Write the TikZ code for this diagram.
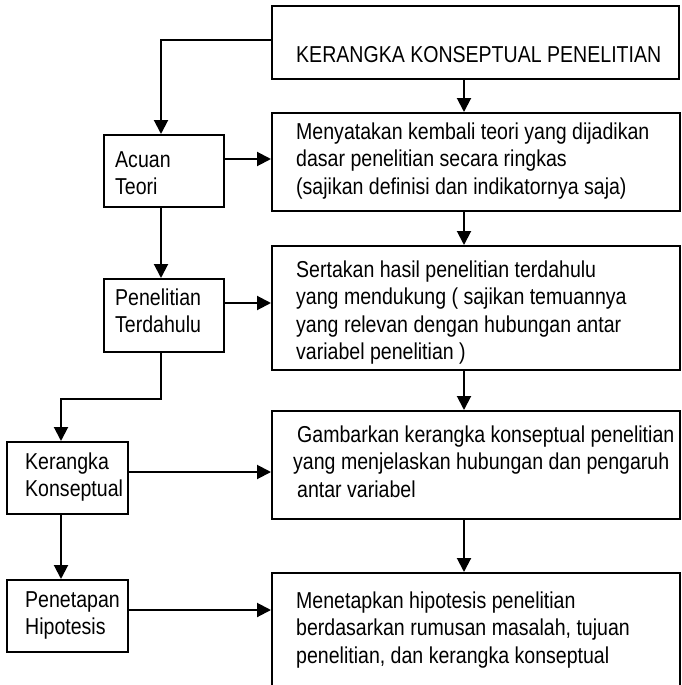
\documentclass[tikz,border=0pt]{standalone}
\usepackage{fontspec}
\setmainfont{Liberation Sans}[FakeStretch=0.85]
\usetikzlibrary{arrows.meta,calc}
\begin{document}
\begin{tikzpicture}[x=1pt,y=-1pt,
  box/.style={draw, line width=2pt, rectangle, inner sep=0pt},
  txt/.style={anchor=base west, inner sep=0pt, font=\fontsize{23}{27.5}\selectfont},
  arr/.style={line width=2pt, -{Triangle[length=14pt,width=14pt]}}]
\useasboundingbox (0,0) rectangle (681,685);
\clip (0,0) rectangle (681,685);
% right column boxes
\node[box, minimum width=407pt, minimum height=73pt] (b1) at (475.5,42.5) {};
\node[box, minimum width=408pt, minimum height=98pt] (b2) at (476,162) {};
\node[box, minimum width=408pt, minimum height=124pt] (b3) at (476,308) {};
\node[box, minimum width=408pt, minimum height=108pt] (b4) at (476,465) {};
\node[box, minimum width=408pt, minimum height=147pt] (b5) at (476,646.5) {};
% left boxes
\node[box, minimum width=120pt, minimum height=72pt] (a1) at (164,171) {};
\node[box, minimum width=120pt, minimum height=73pt] (a2) at (164,315.5) {};
\node[box, minimum width=121pt, minimum height=72pt] (a3) at (67.5,478) {};
\node[box, minimum width=121pt, minimum height=72pt] (a4) at (67.5,616) {};
% texts
\node[txt] (t1) at (296,63) {KERANGKA KONSEPTUAL PENELITIAN};
\node[txt] (t2) at (296,139) {\parbox[t]{380pt}{\raggedright Menyatakan kembali teori yang dijadikan\\dasar penelitian secara ringkas\\(sajikan definisi dan indikatornya saja)}};
\node[txt] (t3) at (296,277) {\parbox[t]{380pt}{\raggedright Sertakan hasil penelitian terdahulu\\yang mendukung ( sajikan temuannya\\yang relevan dengan hubungan antar\\variabel penelitian )}};
\node[txt] (t4) at (293,442) {\parbox[t]{384pt}{\raggedright \hspace*{4pt}Gambarkan kerangka konseptual penelitian\\yang menjelaskan hubungan dan pengaruh\\\hspace*{4pt}antar variabel}};
\node[txt] (t5) at (296,608) {\parbox[t]{380pt}{\raggedright Menetapkan hipotesis penelitian\\berdasarkan rumusan masalah, tujuan\\penelitian, dan kerangka konseptual}};
\node[txt] (s1) at (115,167) {\parbox[t]{105pt}{\raggedright Acuan\\Teori}};
\node[txt] (s2) at (115,305) {\parbox[t]{105pt}{\raggedright Penelitian\\Terdahulu}};
\node[txt] (s3) at (25,469) {\parbox[t]{105pt}{\raggedright Kerangka\\Konseptual}};
\node[txt] (s4) at (25,607) {\parbox[t]{105pt}{\raggedright Penetapan\\Hipotesis}};
% guide coordinates
\coordinate (c0) at (161,0);
\coordinate (c1) at (464,0);
\coordinate (c2) at (61,0);
\coordinate (h1) at (0,40);
\coordinate (h2) at (0,399);
\coordinate (r1) at (0,159);
\coordinate (r2) at (0,303);
\coordinate (r3) at (0,472);
\coordinate (r4) at (0,610);
% connectors
\draw[arr] (b1.west |- h1) -| (a1.north -| c0);
\draw[arr] (a1.south -| c0) -- (a2.north -| c0);
\draw[arr] (a2.south -| c0) |- (h2 -| c2) -- (a3.north -| c2);
\draw[arr] (a3.south -| c2) -- (a4.north -| c2);
\draw[arr] (b1.south -| c1) -- (b2.north -| c1);
\draw[arr] (b2.south -| c1) -- (b3.north -| c1);
\draw[arr] (b3.south -| c1) -- (b4.north -| c1);
\draw[arr] (b4.south -| c1) -- (b5.north -| c1);
\draw[arr] (a1.east |- r1) -- (b2.west |- r1);
\draw[arr] (a2.east |- r2) -- (b3.west |- r2);
\draw[arr] (a3.east |- r3) -- (b4.west |- r3);
\draw[arr] (a4.east |- r4) -- (b5.west |- r4);
\end{tikzpicture}
\end{document}
